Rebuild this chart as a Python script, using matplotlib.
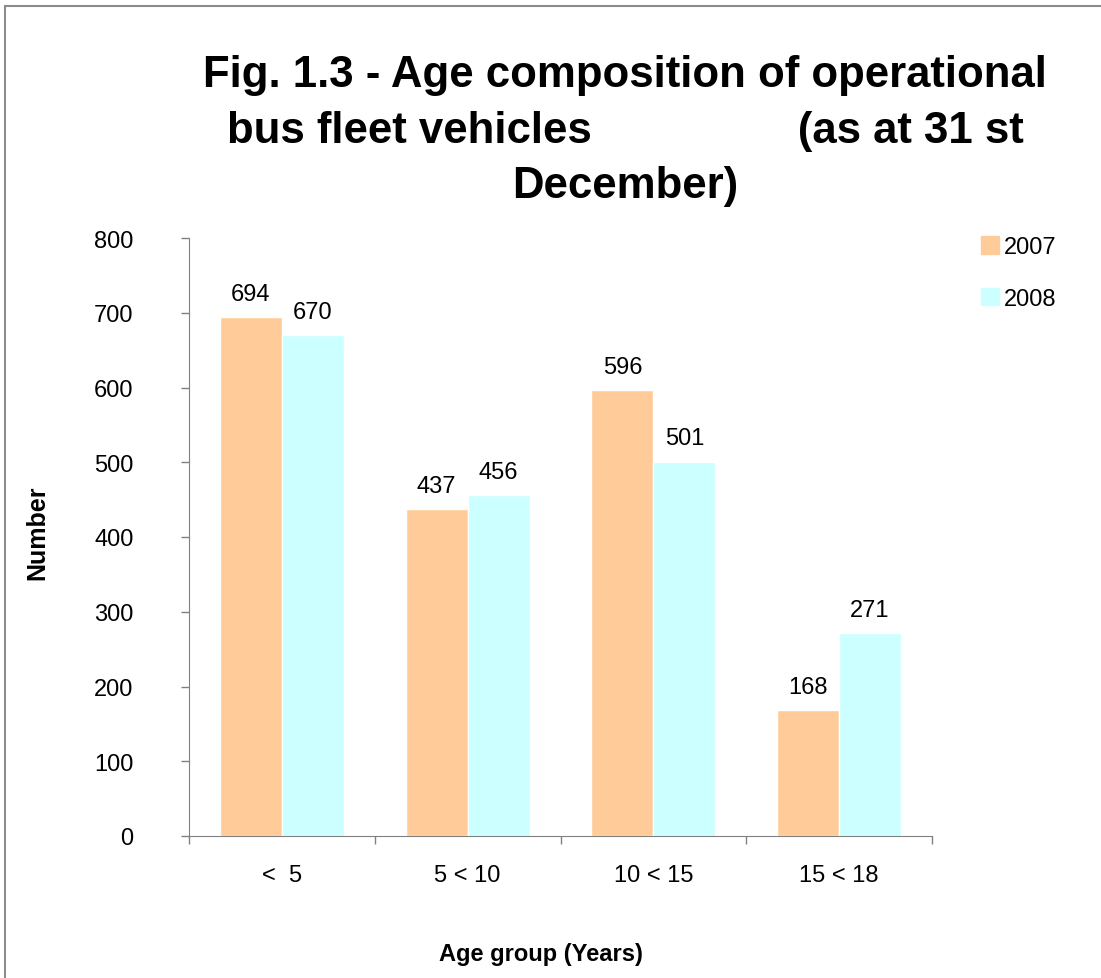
import numpy as np
import matplotlib
matplotlib.use('Agg')
import matplotlib.pyplot as plt
import matplotlib.patches as mpatches

plt.rcParams['font.family'] = ['Liberation Sans', 'DejaVu Sans']

# data
groups = ['<  5', '5 < 10', '10 < 15', '15 < 18']
years = ['2007', '2008']
vals_2007 = [694, 437, 596, 168]
vals_2008 = [670, 456, 501, 271]
colors = ['#FFCC99', '#CCFFFF']

fig = plt.figure(figsize=(11.01, 9.79), dpi=100)
ax = fig.add_axes([189/1101, 1 - 837/979, (932-189)/1101, (837-239)/979])

x = np.arange(len(groups))
w = 1/3
for k, (vals, col, lab) in enumerate(zip([vals_2007, vals_2008], colors, years)):
    bars = ax.bar(x + (k - 0.5)*w, vals, w, color=col, edgecolor='white', linewidth=1, label=lab)
    for b, v in zip(bars, vals):
        ax.annotate(str(v), (b.get_x() + b.get_width()/2, v), xytext=(0, 9),
                    textcoords='offset points', ha='center', va='bottom', fontsize=17)

ax.set_xlim(-0.5, 3.5)
ax.set_ylim(0, 800)
ax.set_yticks(range(0, 801, 100))
ax.tick_params(axis='y', labelsize=17, length=6, width=1, color='#808080', pad=34)

ax.set_xticks(x)
ax.set_xticklabels(groups)
ax.set_xticks(np.arange(-0.5, 4, 1), minor=True)
ax.tick_params(axis='x', which='major', length=0, labelsize=17, pad=20)
ax.tick_params(axis='x', which='minor', length=6, width=1, color='#808080')

for s in ['top', 'right']:
    ax.spines[s].set_visible(False)
for s in ['left', 'bottom']:
    ax.spines[s].set_color('#808080')

fig.text(37/1101, 1 - 533/979, 'Number', rotation=90, ha='center', va='center',
         fontsize=18, fontweight='bold')
fig.text(541/1101, 1 - 955/979, 'Age group (Years)', ha='center', va='center',
         fontsize=17, fontweight='bold')

fig.text(625/1101, 1 - 131/979,
         'Fig. 1.3 - Age composition of operational\n'
         'bus fleet vehicles                 (as at 31 st\n'
         'December)',
         ha='center', va='center', fontsize=31.5, fontweight='bold', linespacing=1.45)

handles = [mpatches.Patch(color=c, label=l) for c, l in zip(colors, years)]
fig.legend(handles=handles, loc='upper left', bbox_to_anchor=(960/1101, 1 - 216/979),
           frameon=False, fontsize=17, handlelength=0.75, handleheight=0.75,
           handletextpad=0.2, labelspacing=1.25)

# outer chart border
fig.patches.append(mpatches.Rectangle((5/1101, -0.05), 1.1, 1 - 7/979 + 0.05,
                                      transform=fig.transFigure, fill=False,
                                      edgecolor='#8c8c8c', linewidth=1.5))

fig.savefig('out.png', dpi=100)
